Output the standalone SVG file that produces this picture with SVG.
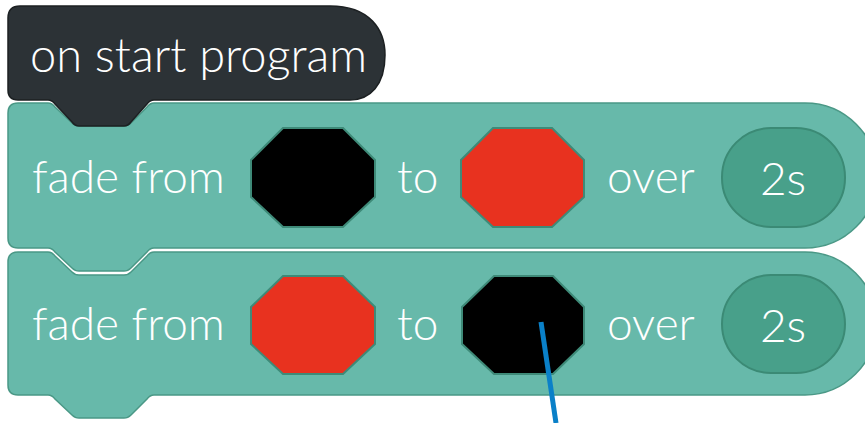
<svg xmlns="http://www.w3.org/2000/svg" width="865" height="423" viewBox="0 0 865 423">
<style>
.blk{fill:#67b9aa;stroke:#4a9886;stroke-width:1.5}
.hat{fill:#2c3236;stroke:#1c2022;stroke-width:1.5}
.txt{font-family:Lato,"Open Sans",sans-serif;font-size:46px;font-weight:300;fill:#ffffff}
.big{font-size:47px}
.pill{fill:#48a08a;stroke:#3b8a75;stroke-width:2}
.oct{stroke:#3e8a78;stroke-width:2}
.red{fill:#e8321f}
.blk2{fill:#000000}
</style>
<rect width="865" height="423" fill="#ffffff"/>
<g id="block2">
<path class="blk" d="M18 252 L48 252 Q52 252 55 256 L72 272 Q75 275 79 275 L124 275 Q128 275 131 272 L147 256 Q150 252 154 252 L805 252 A71.5 71.5 0 0 1 805 395 L154 395 Q150 395 147 399 L131 415 Q128 418 124 418 L79 418 Q75 418 72 415 L55 399 Q52 395 48 395 L18 395 Q8 395 8 385 L8 262 Q8 252 18 252 Z"/>
<text class="txt" x="32" y="340">fade from</text>
<polygon class="oct red" points="283,276 343,276 375,307 375,344 343,374 283,374 251,344 251,307"/>
<text class="txt" x="397" y="340">to</text>
<polygon class="oct blk2" points="494,276 553,276 584,307 584,344 553,374 494,374 462,344 462,307"/>
<text class="txt" x="607" y="340">over</text>
<rect class="pill" x="722" y="275" width="123" height="98" rx="49"/>
<text class="txt" x="783" y="342" text-anchor="middle">2s</text>
</g>
<g id="block1">
<path class="blk" d="M18 103 L48 103 Q52 103 55 107 L72 123 Q75 126 79 126 L124 126 Q128 126 131 123 L147 107 Q150 103 154 103 L805 103 A72.5 72.5 0 0 1 805 248 L154 248 Q150 248 147 252 L131 268 Q128 271 124 271 L79 271 Q75 271 72 268 L55 252 Q52 248 48 248 L18 248 Q8 248 8 238 L8 113 Q8 103 18 103 Z"/>
<text class="txt" x="32" y="193">fade from</text>
<polygon class="oct blk2" points="283,128 343,128 375,160 375,197 343,227 283,227 251,197 251,160"/>
<text class="txt" x="397" y="193">to</text>
<polygon class="oct red" points="493,128 552,128 584,160 584,197 552,227 493,227 461,197 461,160"/>
<text class="txt" x="607" y="193">over</text>
<rect class="pill" x="722" y="128" width="123" height="99" rx="49"/>
<text class="txt" x="783" y="195" text-anchor="middle">2s</text>
</g>
<g id="hat">
<path class="hat" d="M20 6 L330 6 C370 6 385 30 385 55 C385 85 370 100 350 100 L154 100 Q150 100 147 104 L131 122 Q128 126 124 126 L79 126 Q75 126 72 122 L55 104 Q52 100 48 100 L18 100 Q8 100 8 90 L8 18 Q8 6 20 6 Z"/>
<text class="txt big" x="30" y="72">on start program</text>
</g>
<g id="connectors">
<line x1="541" y1="322" x2="556" y2="423" stroke="#0a80c8" stroke-width="5"/>
</g>
</svg>
